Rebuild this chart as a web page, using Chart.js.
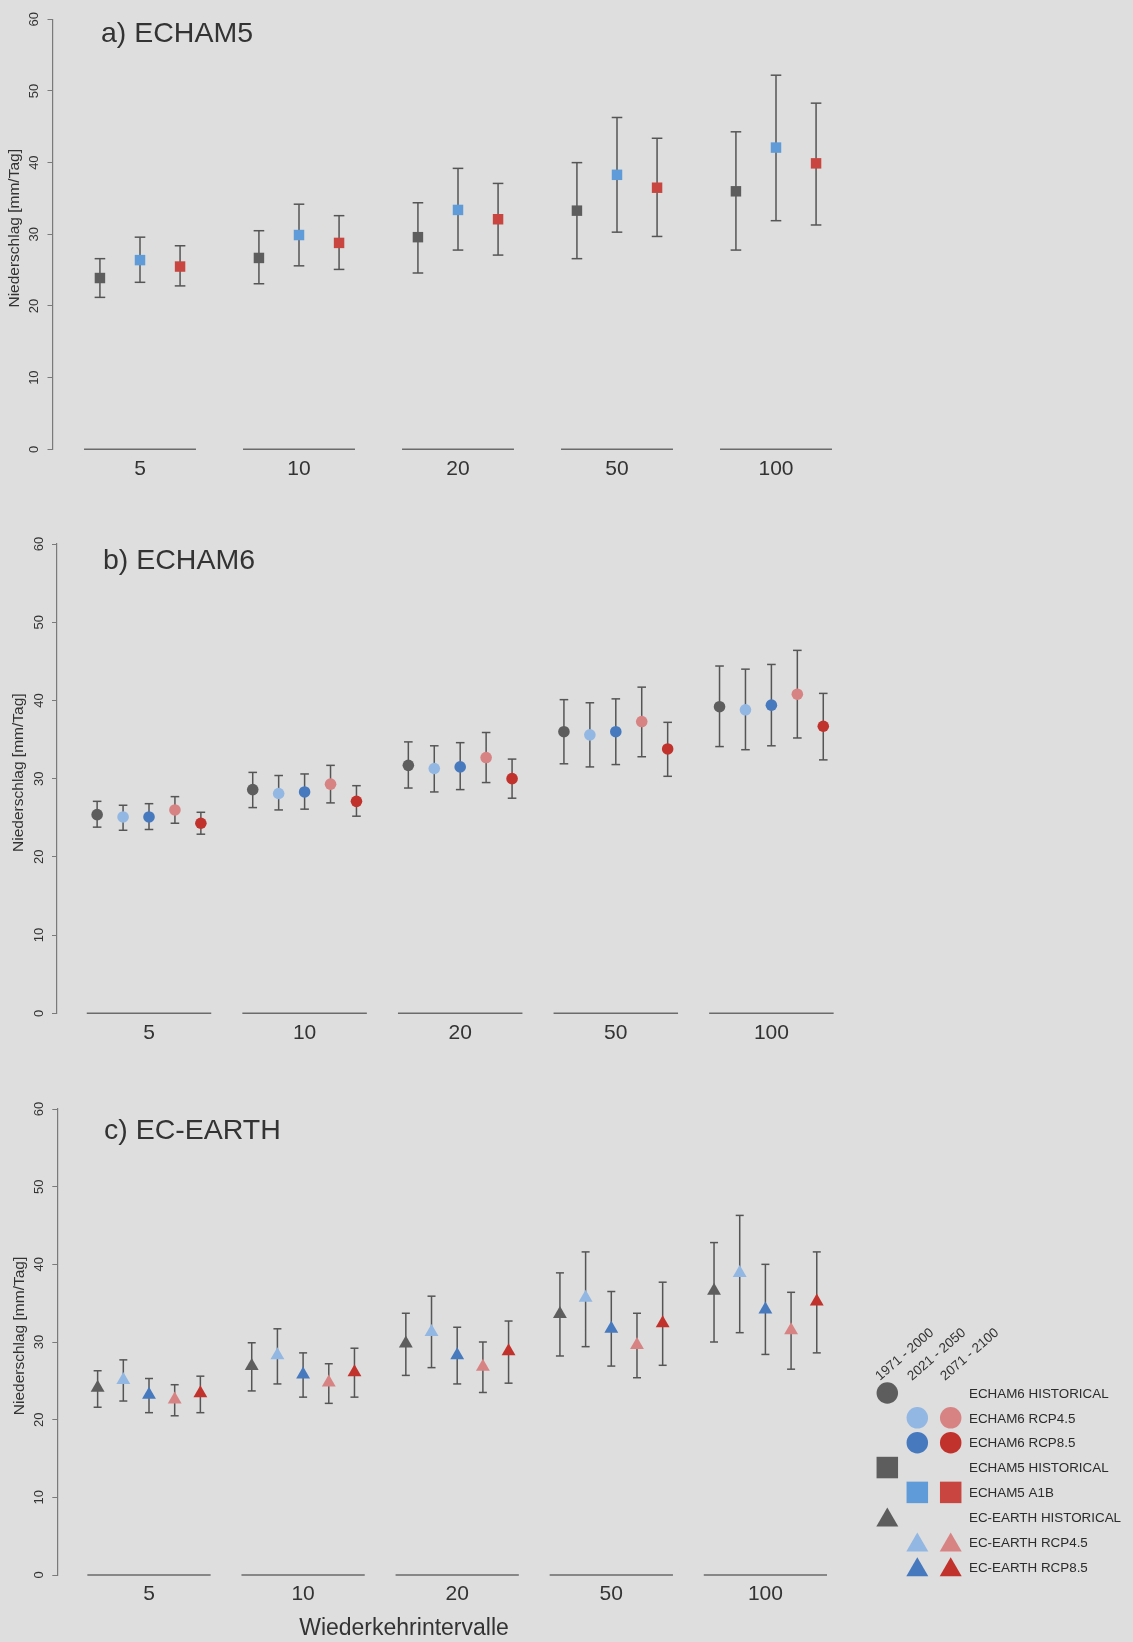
<!DOCTYPE html>
<html>
<head>
<meta charset="utf-8">
<title>Niederschlag – Wiederkehrintervalle</title>
<style>
  html, body { margin: 0; padding: 0; background: #dedede; }
  body { width: 1133px; height: 1642px; position: relative; overflow: hidden; }
  canvas { position: absolute; left: 0; }
</style>
<script src="https://cdn.jsdelivr.net/npm/chart.js@4.4.1/dist/chart.umd.min.js"></script>
</head>
<body>
<canvas id="panelA" width="1133" height="500" style="top:0px"></canvas>
<canvas id="panelB" width="1133" height="540" style="top:520px"></canvas>
<canvas id="panelC" width="1133" height="582" style="top:1060px"></canvas>
<script>
// ---- data: return-level estimates [mm/Tag] with uncertainty ranges ----
const intervals = ['5', '10', '20', '50', '100'];
const yTickValues = [0, 10, 20, 30, 40, 50, 60];

// a) ECHAM5
const e5HistMean = [23.9, 26.7, 29.6, 33.3, 36.0];
const e5HistLo   = [21.2, 23.1, 24.6, 26.6, 27.8];
const e5HistHi   = [26.6, 30.5, 34.4, 40.0, 44.3];
const e5A1bNearMean = [26.4, 29.9, 33.4, 38.3, 42.1];
const e5A1bNearLo   = [23.3, 25.6, 27.8, 30.3, 31.9];
const e5A1bNearHi   = [29.6, 34.2, 39.2, 46.3, 52.2];
const e5A1bFarMean  = [25.5, 28.8, 32.1, 36.5, 39.9];
const e5A1bFarLo    = [22.8, 25.1, 27.1, 29.7, 31.3];
const e5A1bFarHi    = [28.4, 32.6, 37.1, 43.4, 48.3];

// b) ECHAM6
const e6HistMean = [25.4, 28.6, 31.7, 36.0, 39.2];
const e6HistLo   = [23.8, 26.3, 28.8, 31.9, 34.1];
const e6HistHi   = [27.1, 30.8, 34.7, 40.1, 44.4];
const e6Rcp45NearMean = [25.1, 28.1, 31.3, 35.6, 38.8];
const e6Rcp45NearLo   = [23.4, 26.0, 28.3, 31.5, 33.7];
const e6Rcp45NearHi   = [26.6, 30.4, 34.2, 39.7, 44.0];
const e6Rcp85NearMean = [25.1, 28.3, 31.5, 36.0, 39.4];
const e6Rcp85NearLo   = [23.5, 26.1, 28.6, 31.8, 34.2];
const e6Rcp85NearHi   = [26.8, 30.6, 34.6, 40.2, 44.6];
const e6Rcp45FarMean  = [26.0, 29.3, 32.7, 37.3, 40.8];
const e6Rcp45FarLo    = [24.3, 26.9, 29.5, 32.8, 35.2];
const e6Rcp45FarHi    = [27.7, 31.7, 35.9, 41.7, 46.4];
const e6Rcp85FarMean  = [24.3, 27.1, 30.0, 33.8, 36.7];
const e6Rcp85FarLo    = [22.9, 25.2, 27.5, 30.3, 32.4];
const e6Rcp85FarHi    = [25.7, 29.1, 32.5, 37.2, 40.9];

// c) EC-EARTH
const ecHistMean = [24.1, 26.9, 29.8, 33.6, 36.6];
const ecHistLo   = [21.6, 23.7, 25.7, 28.2, 30.0];
const ecHistHi   = [26.3, 29.9, 33.7, 38.9, 42.8];
const ecRcp45NearMean = [25.1, 28.3, 31.3, 35.7, 38.9];
const ecRcp45NearLo   = [22.4, 24.6, 26.7, 29.4, 31.2];
const ecRcp45NearHi   = [27.7, 31.7, 35.9, 41.6, 46.3];
const ecRcp85NearMean = [23.2, 25.8, 28.3, 31.7, 34.2];
const ecRcp85NearLo   = [20.9, 22.9, 24.6, 26.9, 28.4];
const ecRcp85NearHi   = [25.3, 28.6, 31.9, 36.5, 40.0];
const ecRcp45FarMean  = [22.6, 24.8, 26.8, 29.6, 31.5];
const ecRcp45FarLo    = [20.5, 22.1, 23.5, 25.4, 26.5];
const ecRcp45FarHi    = [24.5, 27.2, 30.0, 33.7, 36.4];
const ecRcp85FarMean  = [23.4, 26.1, 28.8, 32.4, 35.2];
const ecRcp85FarLo    = [20.9, 22.9, 24.7, 27.0, 28.6];
const ecRcp85FarHi    = [25.6, 29.2, 32.7, 37.7, 41.6];

// legend texts
const periodLabels = ['1971 - 2000', '2021 - 2050', '2071 - 2100'];
const legendLabels = ['ECHAM6 HISTORICAL', 'ECHAM6 RCP4.5', 'ECHAM6 RCP8.5',
  'ECHAM5 HISTORICAL', 'ECHAM5 A1B', 'EC-EARTH HISTORICAL', 'EC-EARTH RCP4.5', 'EC-EARTH RCP8.5'];

// ---- styling ----
const FONT = '"Liberation Sans", Arial, Helvetica, sans-serif';
const TEXT = '#333333';
const AXIS = '#7a7a7a';
const BAR = '#555555';
const COL = {
  hist: '#5d5d5d',
  e5blue: '#5e9bd8', e5red: '#c8463f',
  lblue: '#92b7e2', dblue: '#4679be', lred: '#d88383', dred: '#c2322c'
};

// column (period) and shape of every legend row
const legendRows = [
  { shape: 'circle', marks: [[0, COL.hist]] },
  { shape: 'circle', marks: [[1, COL.lblue], [2, COL.lred]] },
  { shape: 'circle', marks: [[1, COL.dblue], [2, COL.dred]] },
  { shape: 'rect', marks: [[0, COL.hist]] },
  { shape: 'rect', marks: [[1, COL.e5blue], [2, COL.e5red]] },
  { shape: 'triangle', marks: [[0, COL.hist]] },
  { shape: 'triangle', marks: [[1, COL.lblue], [2, COL.lred]] },
  { shape: 'triangle', marks: [[1, COL.dblue], [2, COL.dred]] }
];

// ---- helpers building Chart.js datasets ----
function groupX(i, offset) { return i + 1 + offset; }

function markerSet(mean, offset, color, style, radius) {
  return {
    type: 'scatter', order: 0,
    data: mean.map((v, i) => ({ x: groupX(i, offset), y: v })),
    pointStyle: style, pointRadius: radius, pointHoverRadius: radius,
    backgroundColor: color, pointBackgroundColor: color,
    pointBorderWidth: 0, borderWidth: 0, clip: false
  };
}

function whiskerSet(lo, hi, offset, capRadius) {
  const pts = [];
  lo.forEach((v, i) => {
    const x = groupX(i, offset);
    pts.push({ x, y: v }, { x, y: hi[i] }, { x, y: null });
  });
  return {
    type: 'line', order: 2, data: pts, showLine: true, spanGaps: false,
    borderColor: BAR, borderWidth: 1.5, tension: 0,
    pointStyle: 'line', pointRadius: capRadius, pointHoverRadius: capRadius,
    pointBorderColor: BAR, pointBorderWidth: 1.5, clip: false
  };
}

function groupLineSet(halfWidth) {
  const pts = [];
  intervals.forEach((_, i) => {
    pts.push({ x: groupX(i, -halfWidth), y: 0 }, { x: groupX(i, halfWidth), y: 0 }, { x: groupX(i, 0), y: null });
  });
  return {
    type: 'line', order: 3, data: pts, showLine: true, spanGaps: false,
    borderColor: '#6b6b6b', borderWidth: 1.5, pointRadius: 0, clip: false
  };
}

function shape(ctx, kind, x, y, size, color) {
  ctx.fillStyle = color;
  ctx.beginPath();
  if (kind === 'circle') {
    ctx.arc(x, y, size / 2, 0, Math.PI * 2);
  } else if (kind === 'rect') {
    ctx.rect(x - size / 2, y - size / 2, size, size);
  } else {
    const r = size / Math.sqrt(3);
    ctx.moveTo(x, y - r);
    ctx.lineTo(x + size / 2, y + r / 2);
    ctx.lineTo(x - size / 2, y + r / 2);
    ctx.closePath();
  }
  ctx.fill();
}

// R-style texts: rotated y tick labels, axis titles, panel title, legend
const rTexts = {
  id: 'rTexts',
  afterDraw(chart, args, o) {
    const { ctx, chartArea, scales } = chart;
    const y = scales.y;
    ctx.save();
    ctx.fillStyle = TEXT;
    ctx.textBaseline = 'middle';
    ctx.textAlign = 'center';

    ctx.font = '13px ' + FONT;
    y.ticks.forEach(t => {
      ctx.save();
      ctx.translate(chartArea.left - 18, y.getPixelForValue(t.value));
      ctx.rotate(-Math.PI / 2);
      ctx.fillText(String(t.value), 0, 0);
      ctx.restore();
    });

    ctx.font = '15.5px ' + FONT;
    ctx.save();
    ctx.translate(chartArea.left - 38, (chartArea.top + chartArea.bottom) / 2 - 6);
    ctx.rotate(-Math.PI / 2);
    ctx.fillText('Niederschlag [mm/Tag]', 0, 0);
    ctx.restore();

    ctx.font = '28.5px ' + FONT;
    ctx.textAlign = 'left';
    ctx.fillText(o.title, o.titleX, o.titleY);

    if (o.xTitle) {
      ctx.font = '23px ' + FONT;
      ctx.textAlign = 'center';
      ctx.fillText(o.xTitle, o.xTitleX, o.xTitleY);
    }

    if (o.legend) {
      const L = o.legend;
      ctx.font = '13.5px ' + FONT;
      ctx.textAlign = 'left';
      ctx.textBaseline = 'alphabetic';
      periodLabels.forEach((lab, c) => {
        ctx.save();
        ctx.translate(L.headX[c], L.headY);
        ctx.rotate(-41 * Math.PI / 180);
        ctx.fillText(lab, 0, 0);
        ctx.restore();
      });
      ctx.textBaseline = 'middle';
      ctx.font = '13.4px ' + FONT;
      legendRows.forEach((row, r) => {
        const ry = L.rowY + r * L.rowStep;
        const size = row.shape === 'triangle' ? 22 : 21.5;
        row.marks.forEach(([c, color]) => {
          const dy = row.shape === 'triangle' ? 3 : 0;
          shape(ctx, row.shape, L.colX[c], ry + dy, size, color);
        });
        ctx.fillStyle = '#2c2c2c';
        ctx.fillText(legendLabels[r], L.textX, ry + 1);
      });
    }
    ctx.restore();
  }
};

function makePanel(cfg) {
  const min = 1 - (cfg.x1 - cfg.axisPx) / cfg.spacing;
  const max = 5.6;
  const right = cfg.axisPx + (max - min) * cfg.spacing;
  const canvas = document.getElementById(cfg.id);
  const datasets = [];
  cfg.series.forEach(s => datasets.push(markerSet(s.mean, s.off, s.color, cfg.style, cfg.markerRadius)));
  cfg.series.forEach(s => datasets.push(whiskerSet(s.lo, s.hi, s.off, cfg.capRadius)));
  datasets.push(groupLineSet(cfg.halfLine));

  return new Chart(canvas, {
    type: 'scatter',
    data: { datasets },
    plugins: [rTexts],
    options: {
      responsive: false, animation: false, events: [],
      layout: { padding: { left: 0, top: cfg.topPad, right: canvas.width - right, bottom: 0 } },
      plugins: {
        legend: { display: false }, tooltip: { enabled: false },
        rTexts: cfg.texts
      },
      scales: {
        x: {
          type: 'linear', min, max,
          afterBuildTicks: s => { s.ticks = intervals.map((_, i) => ({ value: i + 1 })); },
          afterFit: s => { s.height = cfg.xAxisH; },
          ticks: {
            autoSkip: false, maxRotation: 0, minRotation: 0, padding: 7,
            color: TEXT, font: { family: FONT, size: 21 },
            callback: v => intervals[Math.round(v) - 1] || ''
          },
          grid: { display: false, drawTicks: false },
          border: { display: false }
        },
        y: {
          type: 'linear', min: 0, max: 60,
          afterBuildTicks: s => { s.ticks = yTickValues.map(v => ({ value: v })); },
          afterFit: s => { s.width = cfg.axisPx; },
          ticks: { display: false },
          grid: { drawOnChartArea: false, drawTicks: true, tickLength: 5, color: AXIS, lineWidth: 1 },
          border: { display: true, color: AXIS, width: 1.2 }
        }
      }
    }
  });
}

// a) ECHAM5 – squares
makePanel({
  id: 'panelA', axisPx: 52.5, x1: 140, spacing: 159, topPad: 19.3, xAxisH: 50.7,
  halfLine: 0.352, style: 'rect', markerRadius: 7.4, capRadius: 5.3,
  series: [
    { mean: e5HistMean, lo: e5HistLo, hi: e5HistHi, color: COL.hist, off: -0.252 },
    { mean: e5A1bNearMean, lo: e5A1bNearLo, hi: e5A1bNearHi, color: COL.e5blue, off: 0 },
    { mean: e5A1bFarMean, lo: e5A1bFarLo, hi: e5A1bFarHi, color: COL.e5red, off: 0.252 }
  ],
  texts: { title: 'a) ECHAM5', titleX: 101, titleY: 34 }
});

// b) ECHAM6 – circles
makePanel({
  id: 'panelB', axisPx: 57, x1: 149, spacing: 155.6, topPad: 24, xAxisH: 46.7,
  halfLine: 0.4, style: 'circle', markerRadius: 5.8, capRadius: 4.3,
  series: [
    { mean: e6HistMean, lo: e6HistLo, hi: e6HistHi, color: COL.hist, off: -2 / 6 },
    { mean: e6Rcp45NearMean, lo: e6Rcp45NearLo, hi: e6Rcp45NearHi, color: COL.lblue, off: -1 / 6 },
    { mean: e6Rcp85NearMean, lo: e6Rcp85NearLo, hi: e6Rcp85NearHi, color: COL.dblue, off: 0 },
    { mean: e6Rcp45FarMean, lo: e6Rcp45FarLo, hi: e6Rcp45FarHi, color: COL.lred, off: 1 / 6 },
    { mean: e6Rcp85FarMean, lo: e6Rcp85FarLo, hi: e6Rcp85FarHi, color: COL.dred, off: 2 / 6 }
  ],
  texts: { title: 'b) ECHAM6', titleX: 103, titleY: 41 }
});

// c) EC-EARTH – triangles, with the shared legend
makePanel({
  id: 'panelC', axisPx: 57.3, x1: 149, spacing: 154.1, topPad: 49, xAxisH: 67,
  halfLine: 0.4, style: 'triangle', markerRadius: 8, capRadius: 4,
  series: [
    { mean: ecHistMean, lo: ecHistLo, hi: ecHistHi, color: COL.hist, off: -2 / 6 },
    { mean: ecRcp45NearMean, lo: ecRcp45NearLo, hi: ecRcp45NearHi, color: COL.lblue, off: -1 / 6 },
    { mean: ecRcp85NearMean, lo: ecRcp85NearLo, hi: ecRcp85NearHi, color: COL.dblue, off: 0 },
    { mean: ecRcp45FarMean, lo: ecRcp45FarLo, hi: ecRcp45FarHi, color: COL.lred, off: 1 / 6 },
    { mean: ecRcp85FarMean, lo: ecRcp85FarLo, hi: ecRcp85FarHi, color: COL.dred, off: 2 / 6 }
  ],
  texts: {
    title: 'c) EC-EARTH', titleX: 104, titleY: 71,
    xTitle: 'Wiederkehrintervalle', xTitleX: 404, xTitleY: 569,
    legend: {
      headX: [880, 912, 945], headY: 321,
      colX: [887.3, 917.3, 950.7], textX: 969,
      rowY: 333, rowStep: 24.85
    }
  }
});
</script>
</body>
</html>
